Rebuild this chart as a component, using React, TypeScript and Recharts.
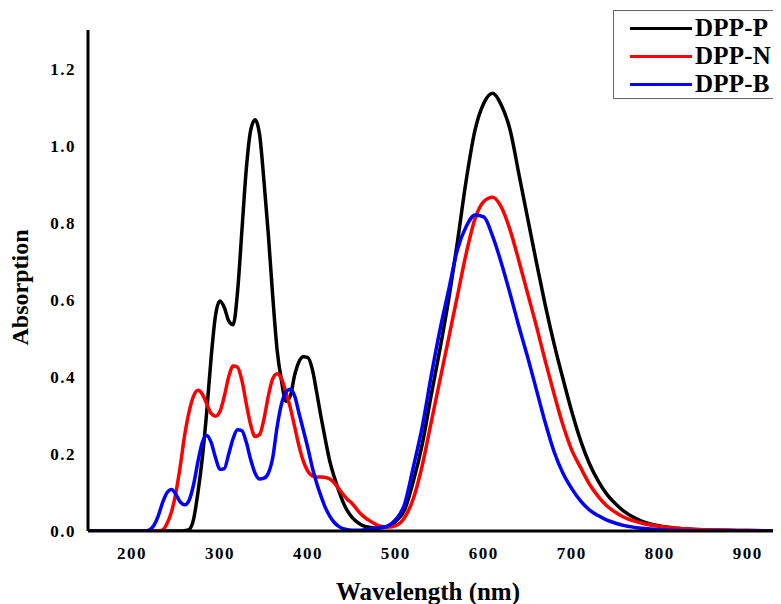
import { LineChart, Line, XAxis, YAxis, Legend } from "recharts";

// wavelength grid (nm)
const wavelength = [
  150, 200, 215, 220, 225, 230, 235, 240, 245, 250,
  255, 260, 265, 270, 275, 280, 285, 290, 295, 300,
  305, 310, 315, 320, 325, 330, 335, 340, 345, 350,
  355, 360, 365, 370, 375, 380, 385, 390, 395, 400,
  405, 410, 415, 420, 425, 430, 435, 440, 445, 450,
  455, 460, 465, 470, 475, 480, 490, 500, 510, 520,
  530, 540, 550, 560, 570, 580, 590, 600, 610, 620,
  630, 640, 650, 660, 670, 680, 690, 700, 710, 720,
  730, 740, 750, 760, 780, 800, 820, 850, 900, 950,
];

const dppP = [
  0, 0, 0, 0, 0, 0, 0, 0, 0, 0,
  0, 0.001, 0.004, 0.03, 0.1, 0.19, 0.31, 0.45, 0.56, 0.597,
  0.58, 0.545, 0.535, 0.62, 0.78, 0.94, 1.04, 1.067, 1.03, 0.91,
  0.77, 0.61, 0.47, 0.39, 0.337, 0.35, 0.405, 0.44, 0.452, 0.45,
  0.42, 0.36, 0.295, 0.235, 0.18, 0.14, 0.105, 0.075, 0.052, 0.036,
  0.025, 0.017, 0.012, 0.01, 0.008, 0.008, 0.012, 0.025, 0.055, 0.13,
  0.225, 0.35, 0.47, 0.6, 0.75, 0.91, 1.04, 1.11, 1.136, 1.105,
  1.04, 0.925, 0.81, 0.695, 0.585, 0.485, 0.395, 0.31, 0.235, 0.175,
  0.13, 0.095, 0.07, 0.05, 0.025, 0.013, 0.007, 0.003, 0.001, 0,
];

const dppN = [
  0, 0, 0, 0, 0, 0, 0.003, 0.02, 0.05, 0.1,
  0.17, 0.25, 0.31, 0.35, 0.365, 0.355, 0.33, 0.305, 0.298, 0.31,
  0.35, 0.4, 0.428, 0.425, 0.39, 0.33, 0.275, 0.245, 0.25, 0.29,
  0.35, 0.395, 0.408, 0.395, 0.36, 0.32, 0.27, 0.22, 0.18, 0.155,
  0.143, 0.14, 0.14, 0.139, 0.135, 0.125, 0.11, 0.095, 0.082, 0.072,
  0.058, 0.045, 0.035, 0.027, 0.02, 0.014, 0.01, 0.014, 0.035, 0.085,
  0.17, 0.28, 0.39, 0.5, 0.61, 0.72, 0.81, 0.855, 0.866, 0.84,
  0.78, 0.7, 0.615, 0.53, 0.44, 0.355, 0.275, 0.21, 0.165, 0.122,
  0.09, 0.065, 0.048, 0.035, 0.02, 0.012, 0.007, 0.003, 0.001, 0,
];

const dppB = [
  0, 0, 0, 0.003, 0.015, 0.04, 0.075, 0.1, 0.108, 0.095,
  0.075, 0.068, 0.08, 0.12, 0.18, 0.23, 0.248, 0.23, 0.19, 0.16,
  0.162, 0.2, 0.24, 0.263, 0.26, 0.23, 0.185, 0.15, 0.135, 0.137,
  0.15, 0.19, 0.27, 0.33, 0.36, 0.368, 0.35, 0.305, 0.26, 0.215,
  0.165, 0.124, 0.09, 0.06, 0.038, 0.022, 0.012, 0.006, 0.003, 0.002,
  0.002, 0.002, 0.003, 0.005, 0.006, 0.008, 0.012, 0.03, 0.07, 0.167,
  0.27, 0.4, 0.52, 0.625, 0.73, 0.79, 0.82, 0.815, 0.765, 0.695,
  0.615, 0.53, 0.45, 0.365, 0.28, 0.205, 0.15, 0.11, 0.078, 0.055,
  0.04, 0.028, 0.02, 0.014, 0.007, 0.003, 0.001, 0, 0, 0,
];

const seriesNames = ["DPP-P", "DPP-N", "DPP-B"];
const xTicks = [200, 300, 400, 500, 600, 700, 800, 900];
const yTicks = [0, 0.2, 0.4, 0.6, 0.8, 1.0, 1.2];

const data = wavelength.map((w, i) => ({
  w,
  P: dppP[i],
  N: dppN[i],
  B: dppB[i],
}));

const serif = '"Liberation Serif", "Times New Roman", serif';

const tickStyle = {
  fontFamily: serif,
  fontWeight: 700,
  fontSize: 17,
  fill: "#000",
  letterSpacing: 1.5,
};

const XTitle = (props: any) => {
  const { x, y } = props.viewBox;
  // title sits a little left of the plot centre, as in the figure
  return (
    <text
      x={x + 340}
      y={y + 69}
      textAnchor="middle"
      fontFamily={serif}
      fontWeight={700}
      fontSize={25}
      fill="#000"
    >
      Wavelength (nm)
    </text>
  );
};

const YTitle = (props: any) => {
  const { x, y, height } = props.viewBox;
  const cx = x + 12;
  const cy = y + height / 2 + 7;
  return (
    <text
      transform={`translate(${cx},${cy}) rotate(-90)`}
      textAnchor="middle"
      dominantBaseline="central"
      fontFamily={serif}
      fontWeight={700}
      fontSize={24}
      fill="#000"
    >
      Absorption
    </text>
  );
};

const LegendBox = (props: any) => {
  const items = [...(props.payload || [])].sort(
    (a: any, b: any) => seriesNames.indexOf(a.value) - seriesNames.indexOf(b.value)
  );
  return (
    <div
      style={{
        border: "1.5px solid #666",
        borderRight: "none",
        boxSizing: "border-box",
        width: 180,
        height: 89,
        background: "#fff",
        paddingTop: 3,
      }}
    >
      {items.map((entry: any) => (
        <div
          key={entry.value}
          style={{ display: "flex", alignItems: "center", height: 28 }}
        >
          <span
            style={{
              display: "inline-block",
              width: 62,
              height: 3,
              background: entry.color,
              marginLeft: 16,
              marginRight: 3,
            }}
          />
          <span
            style={{
              fontFamily: serif,
              fontWeight: 700,
              fontSize: 25,
              letterSpacing: 0.2,
              color: "#000",
              lineHeight: "28px",
              whiteSpace: "nowrap",
            }}
          >
            {entry.value}
          </span>
        </div>
      ))}
    </div>
  );
};

export default function App() {
  return (
    <div>
      {/* the figure runs off the window's right and bottom edges */}
      <style>{"html { overflow: hidden; }"}</style>
      <LineChart
        width={781}
        height={596}
        data={data}
        margin={{ top: 22, right: 0, bottom: 0, left: 0 }}
      >
        <XAxis
          dataKey="w"
          type="number"
          domain={[150, 947]}
          ticks={xTicks}
          allowDataOverflow
          height={73}
          tickLine={false}
          tickSize={0}
          tickMargin={16}
          axisLine={{ stroke: "#000", strokeWidth: 3 }}
          tick={tickStyle}
          label={<XTitle />}
        />
        <YAxis
          type="number"
          domain={[0, 1.3]}
          ticks={yTicks}
          allowDataOverflow
          width={80}
          tickLine={false}
          tickSize={0}
          tickMargin={12}
          tickFormatter={(v: number) => v.toFixed(1)}
          axisLine={{ stroke: "#000", strokeWidth: 3 }}
          tick={tickStyle}
          label={<YTitle />}
        />
        <Legend
          layout="horizontal"
          verticalAlign="middle"
          align="center"
          wrapperStyle={{ top: 2, left: 605, width: 180 }}
          content={<LegendBox />}
        />
        <Line
          type="monotone"
          dataKey="P"
          name={seriesNames[0]}
          stroke="#000000"
          strokeWidth={3.5}
          dot={false}
          isAnimationActive={false}
        />
        <Line
          type="monotone"
          dataKey="N"
          name={seriesNames[1]}
          stroke="#ff0000"
          strokeWidth={3.5}
          dot={false}
          isAnimationActive={false}
        />
        <Line
          type="monotone"
          dataKey="B"
          name={seriesNames[2]}
          stroke="#0000ff"
          strokeWidth={3.5}
          dot={false}
          isAnimationActive={false}
        />
      </LineChart>
    </div>
  );
}
